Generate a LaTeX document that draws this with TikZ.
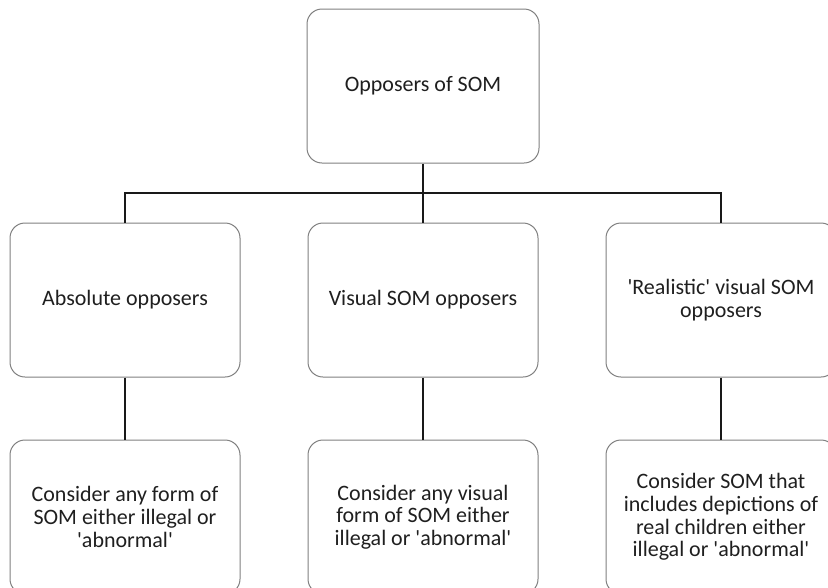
\documentclass[tikz,border=0pt]{standalone}
\usepackage{fontspec}
\setmainfont{Carlito}[Ligatures=TeXOff]
\begin{document}
\begin{tikzpicture}[x=1pt,y=-1pt,
  box/.style={draw=black!50, line width=1pt, rounded corners=15pt,
    minimum width=230pt, minimum height=154pt, align=center,
    text=black!88, font=\fontsize{22}{22.6}\selectfont, inner sep=0pt},
  conn/.style={draw=black!90, line width=2.2pt}]
\useasboundingbox (0,0) rectangle (828,587);
\clip (0,0) rectangle (828,587);
\node[box, minimum width=232pt] (top) at (423,86) {Opposers of SOM};
\node[box] (a1) at (125,300) {Absolute opposers};
\node[box] (a2) at (423,300) {Visual SOM opposers};
\node[box] (a3) at (721,300) {'Realistic' visual SOM\\opposers};
\node[box] (b1) at (125,517) {Consider any form of\\SOM either illegal or\\'abnormal'};
\node[box] (b2) at (423,517) {Consider any visual\\form of SOM either\\illegal or 'abnormal'};
\node[box] (b3) at (721,517) {Consider SOM that\\includes depictions of\\real children either\\illegal or 'abnormal'};
\coordinate (bus) at (423,193);
\draw[conn] (top.south) -- (bus);
\draw[conn] (a1.north) |- (bus) -| (a3.north);
\draw[conn] (bus) -- (a2.north);
\draw[conn] (a1.south) -- (b1.north);
\draw[conn] (a2.south) -- (b2.north);
\draw[conn] (a3.south) -- (b3.north);
\end{tikzpicture}
\end{document}
